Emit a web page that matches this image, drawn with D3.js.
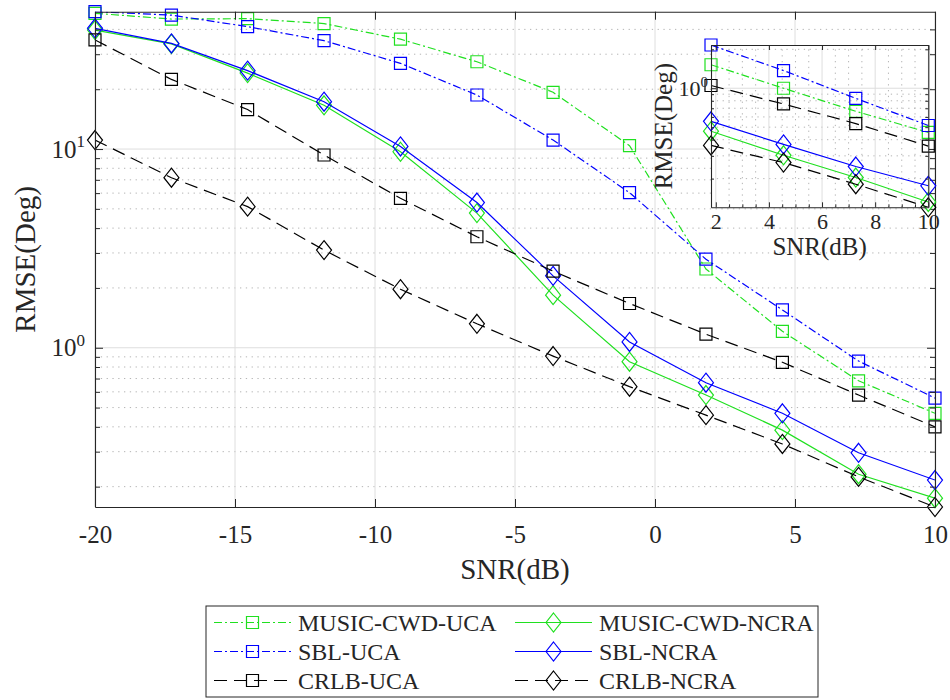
<!DOCTYPE html>
<html>
<head>
<meta charset="utf-8">
<script src="https://cdn.jsdelivr.net/npm/d3@7"></script>
</head>
<body style="margin:0; background:#fff">
<svg id="chart" width="950" height="700" font-family="Liberation Serif"></svg>
<script>
// ---- data ----
var snr = [-20, -17.27, -14.55, -11.82, -9.09, -6.36, -3.64, -0.91, 1.82, 4.55, 7.27, 10];
var musicUca  = [48.2, 45.1, 45.3, 42.8, 35.7, 27.5, 19.3, 10.4, 2.49, 1.21, 0.682, 0.468];
var sblUca    = [49.1, 47.2, 41.3, 35.1, 27.0, 18.7, 11.1, 6.03, 2.79, 1.55, 0.857, 0.558];
var crlbUca   = [35.4, 22.4, 15.8, 9.33, 5.65, 3.62, 2.43, 1.67, 1.17, 0.845, 0.578, 0.400];
var musicNcra = [39.7, 33.8, 24.1, 16.6, 9.69, 4.76, 1.84, 0.851, 0.578, 0.385, 0.231, 0.175];
var sblNcra   = [40.5, 34.0, 24.8, 17.3, 10.3, 5.38, 2.30, 1.07, 0.667, 0.468, 0.296, 0.216];
var crlbNcra  = [11.1, 7.17, 5.13, 3.10, 1.97, 1.32, 0.908, 0.637, 0.458, 0.328, 0.224, 0.158];

var seriesNames = ["MUSIC-CWD-UCA", "MUSIC-CWD-NCRA", "SBL-UCA", "SBL-NCRA", "CRLB-UCA", "CRLB-NCRA"];
var xTicks = [-20, -15, -10, -5, 0, 5, 10];
var yMajor = [1, 10];
var yMinor = [0.2, 0.3, 0.4, 0.5, 0.6, 0.7, 0.8, 0.9, 2, 3, 4, 5, 6, 7, 8, 9, 20, 30, 40];

// inset (zoomed part, high SNR)
var insetSnr = [1.82, 4.55, 7.27, 10];
var insetMusicUca  = [1.52, 1.00, 0.663, 0.455];
var insetSblUca    = [2.16, 1.37, 0.835, 0.515];
var insetCrlbUca   = [1.05, 0.756, 0.533, 0.357];
var insetMusicNcra = [0.465, 0.303, 0.204, 0.132];
var insetSblNcra   = [0.555, 0.368, 0.248, 0.176];
var insetCrlbNcra  = [0.361, 0.266, 0.181, 0.120];
var insetXTicks = [2, 4, 6, 8, 10];
var insetXMinor = [2.5, 3, 3.5, 4.5, 5, 5.5, 6.5, 7, 7.5, 8.5, 9, 9.5];
var insetYMajor = [1];
var insetYMinor = [0.2, 0.3, 0.4, 0.5, 0.6, 0.7, 0.8, 0.9, 2];

// ---- styles ----
var green = "#20e020", blue = "#0000ff", black = "#000000";
var dashDot = "8,3,2,3", dashed = "13,7";
var axisColor = "#262626";
var fontName = "Liberation Serif";

var series = [
  {name: seriesNames[0], main: musicUca,  small: insetMusicUca,  color: green, dash: dashDot, marker: "square"},
  {name: seriesNames[1], main: musicNcra, small: insetMusicNcra, color: green, dash: null,    marker: "diamond"},
  {name: seriesNames[2], main: sblUca,    small: insetSblUca,    color: blue,  dash: dashDot, marker: "square"},
  {name: seriesNames[3], main: sblNcra,   small: insetSblNcra,   color: blue,  dash: null,    marker: "diamond"},
  {name: seriesNames[4], main: crlbUca,   small: insetCrlbUca,   color: black, dash: dashed,  marker: "square"},
  {name: seriesNames[5], main: crlbNcra,  small: insetCrlbNcra,  color: black, dash: dashed,  marker: "diamond"}
];

var svg = d3.select("#chart");

var plot = {left: 95, right: 935, top: 11.7, bottom: 507};
var box = {left: 711, right: 928.3, top: 45, bottom: 207.3};

function markerPath(type) {
  if (type == "square") return "M-6,-6L6,-6L6,6L-6,6Z";
  return "M0,-9.5L7.5,0L0,9.5L-7.5,0Z";
}

// draws grid, lines, markers, axes for one set of axes
function drawAxes(g, xs, x, y, o, clipId) {
  var x0 = x.range()[0], x1 = x.range()[1];
  var y0 = y.range()[0], y1 = y.range()[1];

  g.append("clipPath").attr("id", clipId)
    .append("rect").attr("x", x0).attr("y", y1).attr("width", x1 - x0).attr("height", y0 - y1);

  if (o.background) {
    g.append("rect").attr("x", x0).attr("y", y1).attr("width", x1 - x0).attr("height", y0 - y1)
      .attr("fill", "#fff");
  }

  // minor grid (dotted)
  g.selectAll(".ymin").data(o.yMinor).enter().append("line")
    .attr("x1", x0).attr("x2", x1).attr("y1", d => y(d)).attr("y2", d => y(d))
    .attr("stroke", "#b4b4b4").attr("stroke-width", 1).attr("stroke-dasharray", "1.3,4.5");
  if (o.xMinor) {
    g.selectAll(".xmin").data(o.xMinor).enter().append("line")
      .attr("x1", d => x(d)).attr("x2", d => x(d)).attr("y1", y0).attr("y2", y1)
      .attr("stroke", "#b4b4b4").attr("stroke-width", 1).attr("stroke-dasharray", "1.3,4.5");
  }
  // major grid
  g.selectAll(".xgrid").data(o.xTicks).enter().append("line")
    .attr("x1", d => x(d)).attr("x2", d => x(d)).attr("y1", y0).attr("y2", y1)
    .attr("stroke", "#dedede").attr("stroke-width", 1);
  g.selectAll(".ygrid").data(o.yMajor).enter().append("line")
    .attr("x1", x0).attr("x2", x1).attr("y1", d => y(d)).attr("y2", d => y(d))
    .attr("stroke", "#dedede").attr("stroke-width", 1);

  // series
  series.forEach(function(s) {
    var vals = s[o.key];
    var line = d3.line().x((d, i) => x(xs[i])).y(d => y(d));
    g.append("path").datum(vals)
      .attr("d", line)
      .attr("fill", "none")
      .attr("stroke", s.color)
      .attr("stroke-width", 1.2)
      .attr("stroke-dasharray", s.dash)
      .attr("clip-path", "url(#" + clipId + ")");
    g.selectAll(null).data(vals).enter().append("path")
      .attr("d", markerPath(s.marker))
      .attr("transform", (d, i) => "translate(" + x(xs[i]) + "," + y(d) + ")")
      .attr("fill", "none")
      .attr("stroke", s.color)
      .attr("stroke-width", 1.2);
  });

  // axes, ticks pointing inwards
  g.append("g").attr("transform", "translate(0," + y0 + ")")
    .call(d3.axisBottom(x).tickValues(o.xTicks).tickSize(-o.tickLen).tickSizeOuter(0)
      .tickPadding(o.xPad).tickFormat(d => String(d)));
  g.append("g").attr("transform", "translate(0," + y1 + ")")
    .call(d3.axisTop(x).tickValues(o.xTicks).tickSize(-o.tickLen).tickSizeOuter(0).tickFormat(""));
  if (o.xMinor) {
    g.append("g").attr("transform", "translate(0," + y0 + ")")
      .call(d3.axisBottom(x).tickValues(o.xMinor).tickSize(-o.minorLen).tickSizeOuter(0).tickFormat(""))
      .select(".domain").remove();
  }

  var left = g.append("g").attr("transform", "translate(" + x0 + ",0)")
    .call(d3.axisLeft(y).tickValues(o.yMajor).tickSize(-o.tickLen).tickSizeOuter(0).tickPadding(o.yPad));
  left.selectAll(".tick text").text(null).each(function(d) {
    var t = d3.select(this);
    t.append("tspan").text("10");
    t.append("tspan").attr("dy", "-0.6em").attr("font-size", o.supFont)
      .text(Math.round(Math.log10(d)));
  });
  g.append("g").attr("transform", "translate(" + x0 + ",0)")
    .call(d3.axisLeft(y).tickValues(o.yMinor).tickSize(-o.minorLen).tickSizeOuter(0).tickFormat(""))
    .select(".domain").remove();
  g.append("g").attr("transform", "translate(" + x1 + ",0)")
    .call(d3.axisRight(y).tickValues(o.yMajor).tickSize(-o.tickLen).tickSizeOuter(0).tickFormat(""));
  g.append("g").attr("transform", "translate(" + x1 + ",0)")
    .call(d3.axisRight(y).tickValues(o.yMinor).tickSize(-o.minorLen).tickSizeOuter(0).tickFormat(""))
    .select(".domain").remove();

  g.selectAll(".tick line").attr("stroke", axisColor);
  g.selectAll(".domain").attr("stroke", axisColor).attr("stroke-width", 1.1);
  g.selectAll(".tick text")
    .attr("font-family", fontName)
    .attr("font-size", o.tickFont)
    .attr("fill", axisColor);

  // axis labels
  g.append("text")
    .attr("x", (x0 + x1) / 2).attr("y", o.xLabelY)
    .attr("text-anchor", "middle").attr("dy", "0.35em")
    .attr("font-family", fontName)
    .attr("font-size", o.labelFont)
    .attr("fill", axisColor)
    .text("SNR(dB)");
  g.append("text")
    .attr("transform", "translate(" + o.yLabelX + "," + o.yLabelCy + ") rotate(-90)")
    .attr("text-anchor", "middle").attr("dy", "0.35em")
    .attr("font-family", fontName)
    .attr("font-size", o.labelFont)
    .attr("fill", axisColor)
    .text("RMSE(Deg)");
}

// ---- main axes ----
var x = d3.scaleLinear().domain(d3.extent(snr)).range([plot.left, plot.right]);
var allMain = [].concat(musicUca, musicNcra, sblUca, sblNcra, crlbUca, crlbNcra);
var y = d3.scaleLog().domain(d3.extent(allMain)).range([plot.bottom, plot.top]);

drawAxes(svg.append("g"), snr, x, y, {
  key: "main", xTicks: xTicks, yMajor: yMajor, yMinor: yMinor, xMinor: null,
  tickLen: 8, minorLen: 5, xPad: 18, yPad: 10, tickFont: 25, supFont: 17, labelFont: 29,
  xLabelY: 569, yLabelX: 25, yLabelCy: (plot.top + plot.bottom) / 2, background: false
}, "clipMain");

// ---- inset axes ----
var xi = d3.scaleLinear().domain(d3.extent(insetSnr)).range([box.left, box.right]);
var allInset = [].concat(insetMusicUca, insetMusicNcra, insetSblUca, insetSblNcra, insetCrlbUca, insetCrlbNcra);
var yi = d3.scaleLog().domain(d3.extent(allInset)).range([box.bottom, box.top]);

drawAxes(svg.append("g"), insetSnr, xi, yi, {
  key: "small", xTicks: insetXTicks, yMajor: insetYMajor, yMinor: insetYMinor, xMinor: insetXMinor,
  tickLen: 5, minorLen: 3, xPad: 6, yPad: 3, tickFont: 22, supFont: 15, labelFont: 25,
  xLabelY: 246, yLabelX: 663, yLabelCy: (box.top + box.bottom) / 2, background: true
}, "clipInset");

// ---- legend ----
var legendBox = {left: 206, right: 818, top: 606, bottom: 697};
var legendRows = [622.5, 651.5, 680.5];
var legendCols = [{l: 214, r: 291, text: 298}, {l: 515, r: 592, text: 599}];

var legend = svg.append("g");
legend.append("rect")
  .attr("x", legendBox.left).attr("y", legendBox.top)
  .attr("width", legendBox.right - legendBox.left).attr("height", legendBox.bottom - legendBox.top)
  .attr("fill", "#fff").attr("stroke", axisColor).attr("stroke-width", 1);

var item = legend.selectAll(".item").data(series).enter().append("g")
  .attr("transform", function(d, i) {
    return "translate(0," + legendRows[Math.floor(i / 2)] + ")";
  });
item.append("line")
  .attr("x1", (d, i) => legendCols[i % 2].l).attr("x2", (d, i) => legendCols[i % 2].r)
  .attr("y1", 0).attr("y2", 0)
  .attr("stroke", d => d.color).attr("stroke-width", 1.2)
  .attr("stroke-dasharray", d => d.dash);
item.append("path")
  .attr("d", d => markerPath(d.marker))
  .attr("transform", (d, i) => "translate(" + (legendCols[i % 2].l + legendCols[i % 2].r) / 2 + ",0)")
  .attr("fill", "none").attr("stroke", d => d.color).attr("stroke-width", 1.2);
item.append("text")
  .attr("x", (d, i) => legendCols[i % 2].text).attr("y", 0).attr("dy", "0.35em")
  .attr("font-family", fontName)
  .attr("font-size", 24)
  .attr("fill", axisColor)
  .text(d => d.name);
</script>
</body>
</html>
